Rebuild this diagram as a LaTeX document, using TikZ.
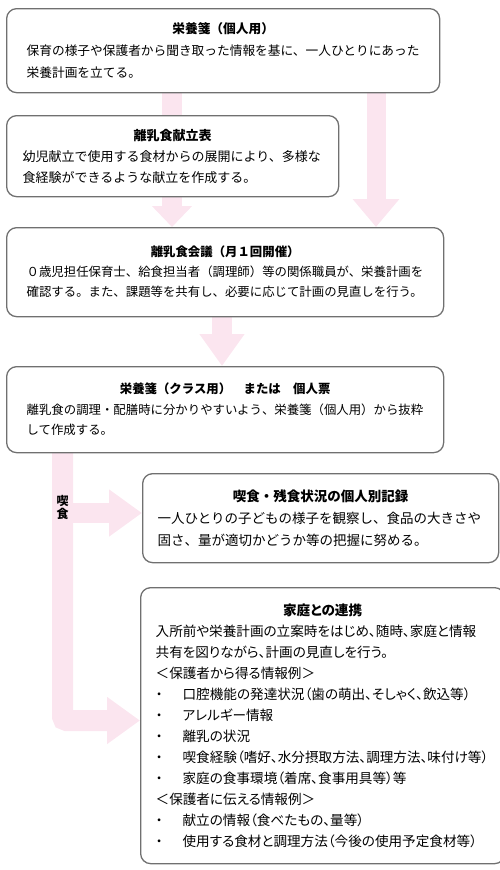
\documentclass[tikz,border=0pt]{standalone}
\usepackage{fontspec}
\setmainfont{Noto Sans CJK JP}
\newfontfamily\propfont{Noto Sans CJK JP}[RawFeature=+palt]
\usetikzlibrary{arrows.meta,backgrounds}
\definecolor{flowpink}{RGB}{251,229,239}
\definecolor{boxgray}{RGB}{112,112,112}
\newcommand{\boxtitle}[1]{{\centering\bfseries #1\par}}
\newcommand{\itm}{\makebox[27pt][l]{・}}

\begin{document}
\begin{tikzpicture}[x=1pt,y=-1pt,
    box/.style={draw=boxgray, line width=1.3pt, rounded corners=10pt, fill=white,
        anchor=north west, inner xsep=20pt, inner ysep=0pt},
    flow/.style={draw=flowpink, line width=#1},
    fathead/.style 2 args={-{Triangle[width=#1, length=#2]}}]
    \useasboundingbox (0,0) rectangle (499,870);

    \node [box, minimum width=431pt, minimum height=84pt, text width=393pt,
        font=\fontsize{12.7}{22}\selectfont] (plan) at (6,8)
        {\boxtitle{栄養箋（個人用）}保育の様子や保護者から聞き取った情報を基に、一人ひとりにあった\\栄養計画を立てる。};
    \node [box, minimum width=328pt, minimum height=81pt, inner xsep=16pt, text width=300pt,
        font=\fontsize{13}{21}\selectfont] (menu) at (6,115)
        {\boxtitle{離乳食献立表}幼児献立で使用する食材からの展開により、多様な\\食経験ができるような献立を作成する。};
    \node [box, minimum width=432pt, minimum height=89pt, text width=397pt,
        font=\fontsize{12.4}{20}\selectfont] (meet) at (6,227)
        {\boxtitle{離乳食会議（月１回開催）}０歳児担任保育士、給食担当者（調理師）等の関係職員が、栄養計画を\\確認する。また、課題等を共有し、必要に応じて計画の見直しを行う。};
    \node [box, minimum width=432pt, minimum height=86pt, text width=397pt,
        font=\fontsize{12.4}{20.5}\selectfont] (cls) at (6,366)
        {\boxtitle{栄養箋（クラス用）　または　個人票}離乳食の調理・配膳時に分かりやすいよう、栄養箋（個人用）から抜粋\\して作成する。};
    \node [box, minimum width=351pt, minimum height=89pt, inner xsep=15pt, text width=326pt,
        font=\fontsize{13.5}{22}\selectfont] (rec) at (142,473)
        {\boxtitle{喫食・残食状況の個人別記録}一人ひとりの子どもの様子を観察し、食品の大きさや\\固さ、量が適切かどうか等の把握に努める。};
    \node [box, minimum width=353pt, minimum height=276pt, inner xsep=15pt, text width=334pt,
        font=\propfont\fontsize{13.6}{21}\selectfont] (home) at (140,587)
        {\boxtitle{家庭との連携}入所前や栄養計画の立案時をはじめ、随時、家庭と情報\\
        共有を図りながら、計画の見直しを行う。\\
        ＜保護者から得る情報例＞\\
        \itm 口腔機能の発達状況（歯の萌出、そしゃく、飲込等）\\
        \itm アレルギー情報\\
        \itm 離乳の状況\\
        \itm 喫食経験（嗜好、水分摂取方法、調理方法、味付け等）\\
        \itm 家庭の食事環境（着席、食事用具等）等\\
        ＜保護者に伝える情報例＞\\
        \itm 献立の情報（食べたもの、量等）\\
        \itm 使用する食材と調理方法（今後の使用予定食材等）};

    % branch point under the class box
    \coordinate (eat) at (62.5,452);
    \node [font=\bfseries\fontsize{12}{13}\selectfont, align=center, inner sep=0pt]
        (eatlbl) at (62.5,507) {喫\\食};

    \begin{scope}[on background layer]
        \draw [flow=20pt, fathead={39pt}{21pt}] (plan.south -| 172,0) -- (meet.north -| 172,0);
        \draw [flow=19pt, fathead={45pt}{28pt}] (plan.south -| 376,0) -- (meet.north -| 376,0);
        \draw [flow=20pt, fathead={43pt}{32pt}] (meet.south -| 222,0) -- (cls.north -| 222,0);
        \draw [flow=21pt, fathead={45pt}{33pt}, rounded corners=4pt] (eat) |- (home.west |- 0,720.5);
        \draw [flow=20pt, fathead={45pt}{33pt}] (eat |- 0,513) -- (rec.west |- 0,513);
    \end{scope}
\end{tikzpicture}
\end{document}
